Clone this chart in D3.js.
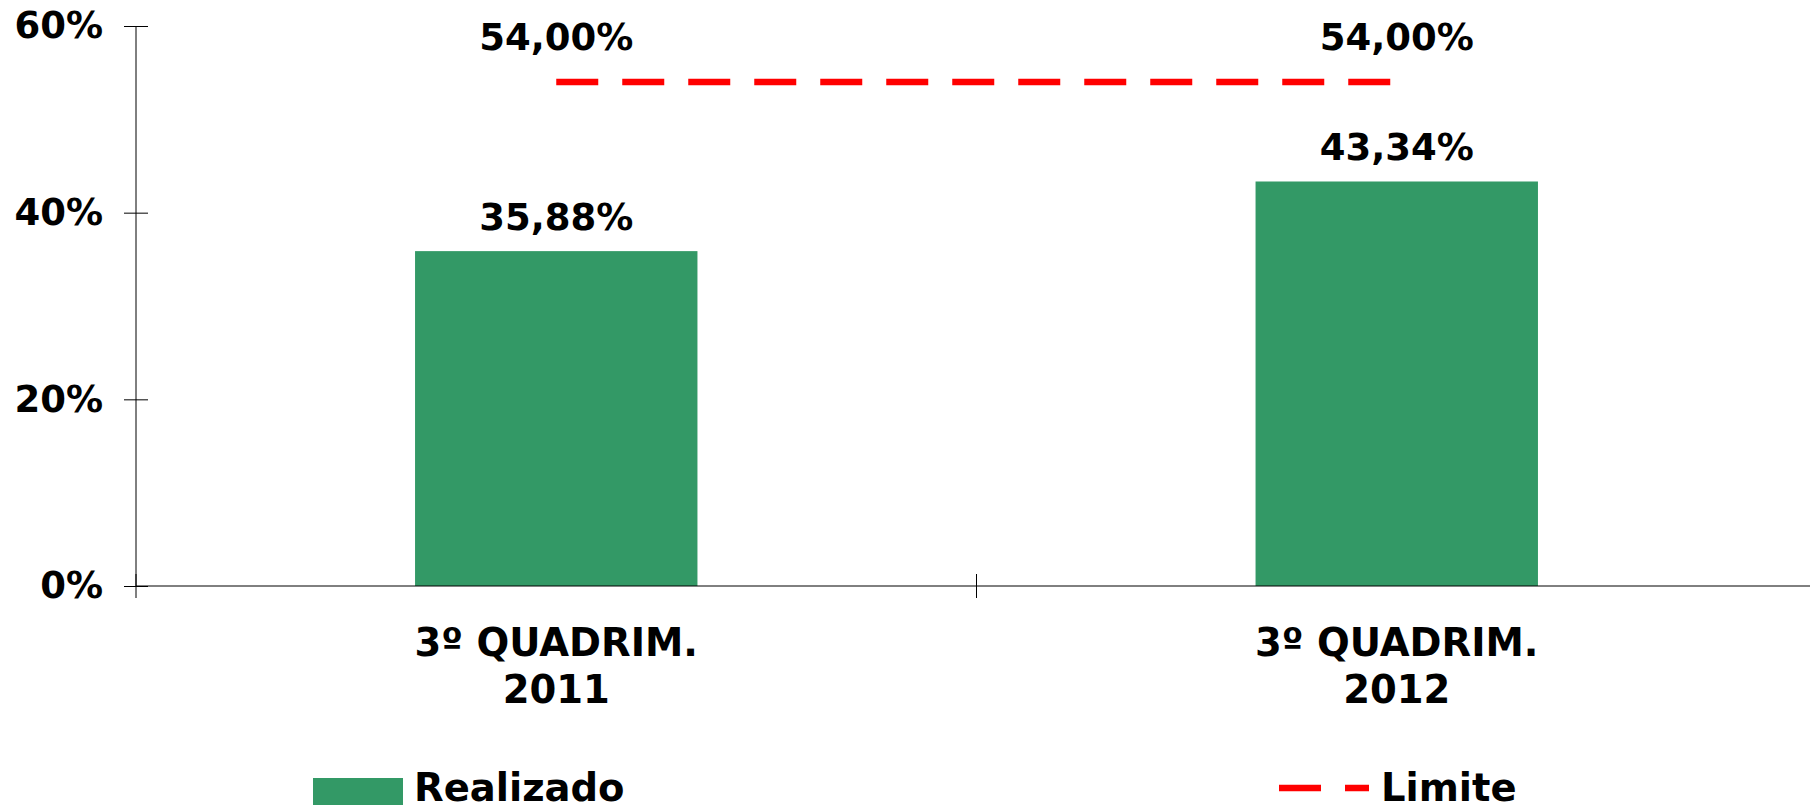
<!DOCTYPE html>
<html>
<head>
<meta charset="utf-8">
<script src="https://cdn.jsdelivr.net/npm/d3@7"></script>
<style>
  html, body { margin: 0; padding: 0; background: #fff; }
  svg text { font-family: "DejaVu Sans", sans-serif; font-weight: bold; fill: #000; }
</style>
</head>
<body>
<div id="chart"></div>
<script>
// data
const categories = [['3º QUADRIM.', '2011'], ['3º QUADRIM.', '2012']];
const realizado = [35.88, 43.34];
const limite = [54.00, 54.00];
const yTicks = [0, 20, 40, 60];
const legendLabels = ['Realizado', 'Limite'];

const width = 1810, height = 805;
const barColor = '#339966';
const lineColor = '#ff0000';
const fontSize = 37;
const catFontSize = 38.5;

const ptBR = d3.formatLocale({ decimal: ',', thousands: '.', grouping: [3], currency: ['R$', ''] });
const fmtVal = v => ptBR.format('.2f')(v) + '%';

const svg = d3.select('#chart')
  .append('svg')
  .attr('width', width)
  .attr('height', height);

const keys = categories.map((c, i) => i);

const x = d3.scaleBand()
  .domain(keys)
  .range([136, 1817])
  .paddingInner(0)
  .paddingOuter(0);

const y = d3.scaleLinear()
  .domain([0, 60])
  .range([586, 26]);

const barW = x.bandwidth() * 0.336;
const cx = i => x(i) + x.bandwidth() / 2;

// Bars
svg.append('g')
  .selectAll('rect')
  .data(realizado)
  .join('rect')
  .attr('x', (d, i) => cx(i) - barW / 2)
  .attr('y', d => y(d))
  .attr('width', barW)
  .attr('height', d => y(0) - y(d))
  .attr('fill', barColor);

// Y axis
const yAxis = svg.append('g')
  .attr('transform', 'translate(136,0)')
  .call(d3.axisLeft(y).tickValues(yTicks).tickFormat(d => d + '%').tickSize(12).tickPadding(21));
yAxis.select('.domain').attr('stroke', '#000').attr('d', `M0,${y(60)}V${y(0)}`);
yAxis.selectAll('.tick line').attr('x1', -12).attr('x2', 12).attr('stroke', '#000');
yAxis.selectAll('.tick text')
  .attr('x', -33)
  .style('font-size', fontSize + 'px')
  .style('font-family', '"DejaVu Sans", sans-serif')
  .style('font-weight', 'bold')
  .attr('fill', '#000');

// X axis line and category boundary ticks
svg.append('line')
  .attr('x1', x.range()[0]).attr('x2', width)
  .attr('y1', y(0)).attr('y2', y(0))
  .attr('stroke', '#000');

svg.append('g')
  .selectAll('line')
  .data(keys.concat([keys.length]))
  .join('line')
  .attr('x1', i => i < keys.length ? x(i) : x.range()[1])
  .attr('x2', i => i < keys.length ? x(i) : x.range()[1])
  .attr('y1', y(0) - 12)
  .attr('y2', y(0) + 12)
  .attr('stroke', '#000');

// Category labels
svg.append('g')
  .selectAll('text')
  .data(categories)
  .join('text')
  .attr('text-anchor', 'middle')
  .style('font-size', catFontSize + 'px')
  .each(function (d, i) {
    d3.select(this).selectAll('tspan')
      .data(d)
      .join('tspan')
      .attr('x', cx(i))
      .attr('y', (t, j) => 656 + j * 47)
      .text(t => t);
  });

// Limit line
const line = d3.line()
  .x((d, i) => cx(i))
  .y(d => y(d));

svg.append('path')
  .datum(limite)
  .attr('fill', 'none')
  .attr('stroke', lineColor)
  .attr('stroke-width', 6.5)
  .attr('stroke-dasharray', '42,24')
  .attr('d', line);

// Value labels
svg.append('g')
  .selectAll('text')
  .data(realizado)
  .join('text')
  .attr('x', (d, i) => cx(i))
  .attr('y', d => y(d) - 21)
  .attr('text-anchor', 'middle')
  .style('font-size', fontSize + 'px')
  .text(d => fmtVal(d));

svg.append('g')
  .selectAll('text')
  .data(limite)
  .join('text')
  .attr('x', (d, i) => cx(i))
  .attr('y', d => y(d) - 32)
  .attr('text-anchor', 'middle')
  .style('font-size', fontSize + 'px')
  .text(d => fmtVal(d));

// Legend
const leg = svg.append('g');
leg.append('rect')
  .attr('x', 313).attr('y', 778)
  .attr('width', 90).attr('height', 40)
  .attr('fill', barColor);
leg.append('text')
  .attr('x', 414).attr('y', 801)
  .style('font-size', catFontSize + 'px')
  .text(legendLabels[0]);

leg.append('line')
  .attr('x1', 1279).attr('x2', 1369)
  .attr('y1', 788).attr('y2', 788)
  .attr('stroke', lineColor)
  .attr('stroke-width', 6.5)
  .attr('stroke-dasharray', '42,24');
leg.append('text')
  .attr('x', 1381).attr('y', 801)
  .style('font-size', catFontSize + 'px')
  .text(legendLabels[1]);
</script>
</body>
</html>
